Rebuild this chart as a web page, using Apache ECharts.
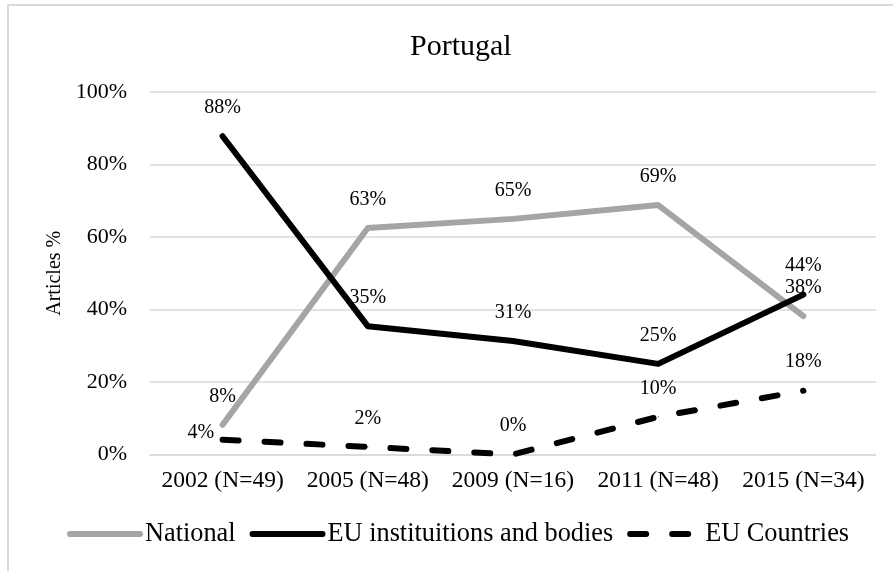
<!DOCTYPE html>
<html>
<head>
<meta charset="utf-8">
<script src="https://cdn.jsdelivr.net/npm/echarts@6/dist/echarts.min.js"></script>
<style>
  html, body { margin: 0; padding: 0; background: #fff; }
  #chart { width: 893px; height: 571px; }
</style>
</head>
<body>
<div id="chart"></div>
<script>
const years = ['2002 (N=49)', '2005 (N=48)', '2009 (N=16)', '2011 (N=48)', '2015 (N=34)']
const national = [8.2, 62.5, 65, 68.8, 38.2]
const euInstitutions = [87.8, 35.4, 31.3, 25, 44.1]
const euCountries = [4.1, 2.1, 0, 10.4, 17.6]
const yTicks = [0, 20, 40, 60, 80, 100]

const FONT = '"Liberation Serif", "Times New Roman", serif'

const chart = echarts.init(document.getElementById('chart'))

const pctLabel = {
  show: true,
  position: 'top',
  distance: 18,
  fontFamily: FONT,
  fontSize: 20,
  color: '#000',
  formatter: p => Math.round(p.value) + '%'
}

const option = {
  backgroundColor: '#fff',
  animation: false,
  title: {
    text: 'Portugal',
    left: 405,
    top: 27,
    textStyle: { fontFamily: FONT, fontSize: 30, fontWeight: 'normal', color: '#000' }
  },
  graphic: [{
    type: 'rect',
    shape: { x: 8, y: 5, width: 1000, height: 1000 },
    style: { fill: 'none', stroke: '#d9d9d9', lineWidth: 2 },
    silent: true
  }],
  legend: {
    left: 67,
    top: 521,
    padding: 0,
    itemWidth: 70,
    itemHeight: 14,
    itemGap: 14,
    textStyle: { fontFamily: FONT, fontSize: 26.3, color: '#000' },
    itemStyle: { opacity: 0 },
    lineStyle: { width: 6, cap: 'round' },
    data: ['National', 'EU instituitions and bodies', 'EU Countries']
  },
  grid: { left: 150, right: 17, top: 92, bottom: 116.5 },
  xAxis: {
    type: 'category',
    data: years,
    boundaryGap: true,
    axisLine: { show: true, lineStyle: { color: '#d9d9d9', width: 1.5 } },
    axisTick: { show: false },
    axisLabel: { fontFamily: FONT, fontSize: 23.5, color: '#000', margin: 14, interval: 0 }
  },
  yAxis: {
    type: 'value',
    min: yTicks[0],
    max: yTicks[yTicks.length - 1],
    interval: 20,
    name: 'Articles %',
    nameLocation: 'middle',
    nameGap: 84,
    nameTextStyle: { fontFamily: FONT, fontSize: 20, color: '#000' },
    axisLine: { show: false },
    axisTick: { show: false },
    axisLabel: { fontFamily: FONT, fontSize: 22, color: '#000', margin: 23, formatter: '{value}%' },
    splitLine: { lineStyle: { color: '#d9d9d9', width: 1.5 } }
  },
  series: [
    {
      name: 'National',
      type: 'line',
      data: national,
      symbol: 'circle',
      symbolSize: 1,
      itemStyle: { color: '#a5a5a5' },
      lineStyle: { color: '#a5a5a5', width: 6, cap: 'round', join: 'round' },
      label: pctLabel
    },
    {
      name: 'EU instituitions and bodies',
      type: 'line',
      data: euInstitutions,
      symbol: 'circle',
      symbolSize: 1,
      itemStyle: { color: '#000' },
      lineStyle: { color: '#000', width: 6, cap: 'round', join: 'round' },
      label: pctLabel
    },
    {
      name: 'EU Countries',
      type: 'line',
      data: euCountries.map((v, i) => i === 0
        ? { value: v, label: { position: 'left', distance: 8, offset: [0, -7] } }
        : v),
      symbol: 'circle',
      symbolSize: 1,
      itemStyle: { color: '#000' },
      lineStyle: { color: '#000', width: 6, type: [16, 26], cap: 'round', join: 'round' },
      label: pctLabel
    }
  ]
}

chart.setOption(option)
</script>
</body>
</html>
